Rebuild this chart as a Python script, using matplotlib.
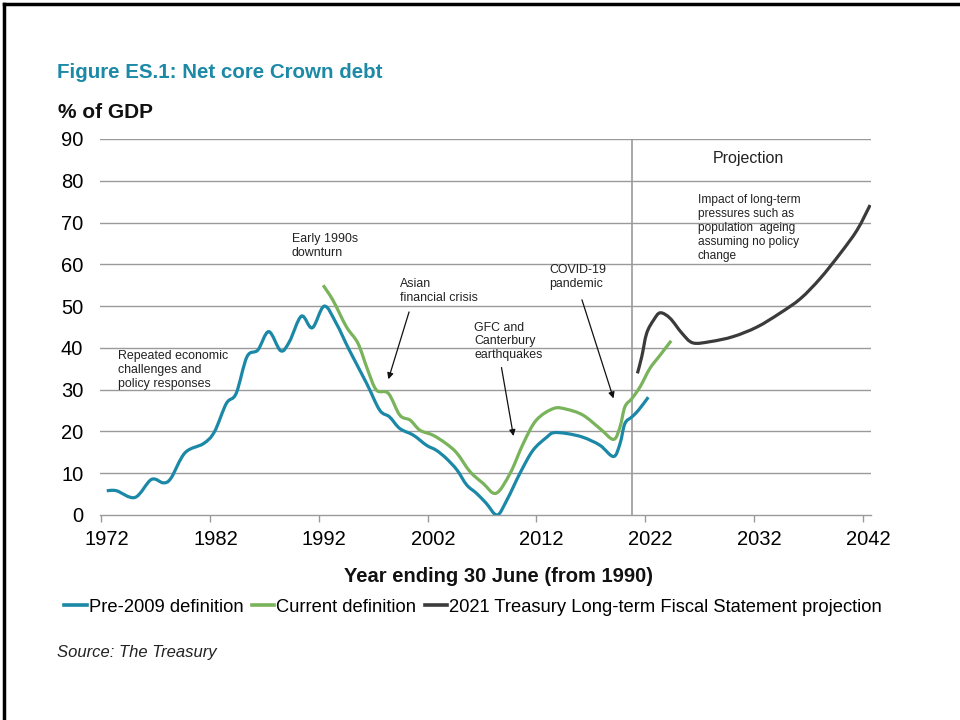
import matplotlib
matplotlib.use("Agg")
import matplotlib.pyplot as plt
from matplotlib.lines import Line2D
from matplotlib.path import Path
from matplotlib.patches import PathPatch

plt.rcParams['font.family'] = ['Liberation Sans', 'DejaVu Sans']

# ---- data ----
pre_years = [1972.0, 1972.9, 1974.6, 1976.1, 1977.2, 1977.9, 1979.2, 1980.9, 1981.9,
             1983.0, 1983.9, 1984.9, 1985.9, 1986.9, 1988.0, 1988.8, 1989.9, 1990.9,
             1992.0, 1993.1, 1994.3, 1995.9, 1997.1, 1998.0, 1998.95, 2000.2, 2001.4,
             2002.3, 2003.2, 2004.2, 2005.1, 2006.0, 2006.9, 2007.9, 2008.8, 2010.0,
             2011.2, 2012.5, 2013.1, 2014.3, 2015.8, 2017.35, 2018.6, 2019.2, 2019.65,
             2020.3, 2020.9, 2021.8]
pre_vals = [5.8, 5.8, 4.2, 8.5, 7.7, 8.8, 14.9, 17.1, 19.9,
            26.7, 29.1, 37.9, 39.5, 43.9, 39.3, 41.5, 47.6, 44.8,
            50.0, 45.9, 39.5, 31.5, 25.1, 23.5, 20.7, 19.1, 16.7,
            15.5, 13.6, 10.8, 7.2, 5.2, 2.8, 0.0, 3.6, 10.0,
            15.5, 18.7, 19.7, 19.5, 18.6, 16.7, 14.0, 17.1, 21.9,
            23.5, 25.1, 28.2]

cur_years = [1991.9, 1992.8, 1994.05, 1995.1, 1996.0, 1996.8, 1997.9, 1998.95, 1999.9,
             2000.8, 2002.0, 2003.2, 2004.2, 2005.4, 2006.6, 2007.8, 2009.1, 2010.3,
             2011.5, 2013.1, 2014.3, 2015.8, 2017.35, 2018.6, 2019.2, 2019.65, 2020.3,
             2021.05, 2021.95, 2022.9, 2023.9]
cur_vals = [55.0, 51.4, 45.0, 41.1, 34.7, 29.9, 29.1, 23.9, 22.7,
            20.3, 19.1, 17.1, 14.8, 10.4, 7.6, 5.2, 10.0, 17.1,
            22.7, 25.5, 25.3, 23.9, 20.7, 18.1, 21.1, 25.9, 27.9,
            30.7, 35.1, 38.3, 41.7]

proj_years = [2020.8, 2021.2, 2021.65, 2022.3, 2022.9, 2023.8, 2024.9, 2025.9, 2027.5,
              2029.6, 2031.8, 2033.9, 2035.8, 2037.6, 2039.45, 2041.0, 2042.2]
proj_vals = [33.9, 37.9, 43.5, 46.7, 48.4, 47.1, 43.5, 41.2, 41.5,
             42.7, 45.0, 48.3, 51.8, 56.6, 62.6, 68.2, 74.2]

x_tick_labels = [1972, 1982, 1992, 2002, 2012, 2022, 2032, 2042]
y_ticks = [0, 10, 20, 30, 40, 50, 60, 70, 80, 90]
series_names = ["Pre-2009 definition", "Current definition",
                "2021 Treasury Long-term Fiscal Statement projection"]
projection_start = 2020.3

# ---- style ----
c_blue = "#1a88a6"
c_green = "#79b35b"
c_black = "#3b3b3b"
c_title = "#1c8aa6"
c_grid = "#9a9a9a"
LW = 2.3


def smooth_line(ax, xs, ys, color):
    """Draw a smoothed (Catmull-Rom as Bezier) line through the data points."""
    n = len(xs)
    verts = [(xs[0], ys[0])]
    codes = [Path.MOVETO]
    t = 1.0 / 6.0
    for i in range(n - 1):
        x0, y0 = (xs[i - 1], ys[i - 1]) if i > 0 else (xs[i], ys[i])
        x1, y1 = xs[i], ys[i]
        x2, y2 = xs[i + 1], ys[i + 1]
        x3, y3 = (xs[i + 2], ys[i + 2]) if i + 2 < n else (xs[i + 1], ys[i + 1])
        c1 = (x1 + (x2 - x0) * t, y1 + (y2 - y0) * t)
        c2 = (x2 - (x3 - x1) * t, y2 - (y3 - y1) * t)
        verts += [c1, c2, (x2, y2)]
        codes += [Path.CURVE4, Path.CURVE4, Path.CURVE4]
    patch = PathPatch(Path(verts, codes), facecolor='none', edgecolor=color, lw=LW,
                      joinstyle='round', capstyle='butt', zorder=3)
    ax.add_patch(patch)


fig = plt.figure(figsize=(9.6, 7.2), dpi=100)
ax = fig.add_axes([100/960, 1-515/720, (871-100)/960, (515-139)/720])

smooth_line(ax, pre_years, pre_vals, c_blue)
smooth_line(ax, cur_years, cur_vals, c_green)
smooth_line(ax, proj_years, proj_vals, c_black)

ax.set_xlim(1971.38, 2042.28)
ax.set_ylim(0, 90)
ax.set_yticks(y_ticks)
ax.set_yticklabels([str(v) for v in y_ticks], fontsize=14.5)
ax.set_xticks(x_tick_labels)
ax.set_xticklabels([str(v) for v in x_tick_labels], fontsize=14.5)
ax.set_xticks([y - 0.5 for y in x_tick_labels], minor=True)
ax.tick_params(axis='x', which='major', length=0, pad=11)
ax.tick_params(axis='x', which='minor', length=5, color=c_grid, width=1)
ax.tick_params(axis='y', length=0, pad=12)

for v in y_ticks[1:]:
    ax.axhline(v, color=c_grid, lw=1, zorder=1)
for s in ['top', 'right', 'left']:
    ax.spines[s].set_visible(False)
ax.spines['bottom'].set_color(c_grid)
ax.spines['bottom'].set_linewidth(1)
ax.axvline(projection_start, color=c_grid, lw=1.2, zorder=1)

# ---- annotations ----
afs = 8.9
tc = '#222222'
ls = 1.2
ax.text(1973.0, 39.5, "Repeated economic\nchallenges and\npolicy responses", fontsize=afs,
        va='top', ha='left', linespacing=ls, color=tc)
ax.text(1989.0, 67.4, "Early 1990s\ndownturn", fontsize=afs, va='top', ha='left',
        linespacing=ls, color=tc)
ax.text(1998.95, 56.8, "Asian\nfinancial crisis", fontsize=afs, va='top', ha='left',
        linespacing=ls, color=tc)
ax.text(2005.8, 46.3, "GFC and\nCanterbury\nearthquakes", fontsize=afs, va='top', ha='left',
        linespacing=ls, color=tc)
ax.text(2012.66, 60.0, "COVID-19\npandemic", fontsize=afs, va='top', ha='left',
        linespacing=ls, color=tc)
ax.text(2031.0, 85.4, "Projection", fontsize=11.5, va='center', ha='center', color=tc)
ax.text(2026.35, 76.8, "Impact of long-term\npressures such as\npopulation  ageing\nassuming no policy\nchange",
        fontsize=8.6, va='top', ha='left', linespacing=1.22, color=tc)

arrow_kw = dict(arrowstyle='-|>', color='#111111', lw=0.9, mutation_scale=9, shrinkA=0, shrinkB=0)
ax.annotate("", xy=(1997.9, 32.5), xytext=(1999.8, 48.6), arrowprops=arrow_kw)
ax.annotate("", xy=(2009.4, 18.9), xytext=(2008.3, 35.3), arrowprops=arrow_kw)
ax.annotate("", xy=(2018.6, 27.9), xytext=(2015.7, 51.5), arrowprops=arrow_kw)

# ---- titles and labels ----
fig.text(57/960, 1-73/720, "Figure ES.1: Net core Crown debt", fontsize=14.8, fontweight='bold',
         color=c_title, va='center', ha='left')
fig.text(58/960, 1-112/720, "% of GDP", fontsize=15, fontweight='bold', color='#111111',
         va='center', ha='left')
fig.text(499/960, 1-576/720, "Year ending 30 June (from 1990)", fontsize=14.5, fontweight='bold',
         color='#111111', va='center', ha='center')
fig.text(57/960, 1-653/720, "Source: The Treasury", fontsize=12, style='italic',
         color='#222222', va='center', ha='left')

handles = [Line2D([], [], color=c_blue, lw=2.6),
           Line2D([], [], color=c_green, lw=2.6),
           Line2D([], [], color=c_black, lw=2.6)]
fig.legend(handles, series_names, loc='center', bbox_to_anchor=(473/960, 1-607/720), ncol=3,
           frameon=False, fontsize=13.2, handlelength=1.25, handletextpad=0.1, columnspacing=0.45,
           borderaxespad=0, borderpad=0)

# frame lines (top and left border of the page)
fig.add_artist(Line2D([4/960, 1.0], [1-4/720, 1-4/720], color='black', lw=2.5, transform=fig.transFigure))
fig.add_artist(Line2D([4/960, 4/960], [0, 1-4/720], color='black', lw=2.5, transform=fig.transFigure))

fig.savefig("out.png", dpi=100)
